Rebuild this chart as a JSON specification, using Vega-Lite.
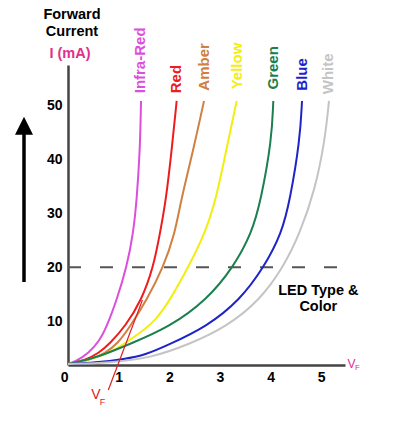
{
  "$schema": "https://vega.github.io/schema/vega-lite/v6.json",
  "width": 277,
  "height": 300,
  "autosize": {"type": "none"},
  "padding": {"left": 68, "top": 65, "right": 67, "bottom": 60},
  "background": "white",
  "config": {"font": "Liberation Sans", "view": {"stroke": null}},
  "datasets": {
    "curves": [
      {"led": "Infra-Red", "v": 0, "I": 2.12}, {"led": "Infra-Red", "v": 0.144, "I": 2.55}, {"led": "Infra-Red", "v": 0.409, "I": 4.1}, {"led": "Infra-Red", "v": 0.632, "I": 6.56}, {"led": "Infra-Red", "v": 0.764, "I": 9.02}, {"led": "Infra-Red", "v": 0.962, "I": 13.96}, {"led": "Infra-Red", "v": 1.159, "I": 20.0}, {"led": "Infra-Red", "v": 1.289, "I": 26.29}, {"led": "Infra-Red", "v": 1.357, "I": 32.44}, {"led": "Infra-Red", "v": 1.422, "I": 41.69}, {"led": "Infra-Red", "v": 1.442, "I": 50.75},
      {"led": "Red", "v": 0, "I": 2.12}, {"led": "Red", "v": 0.342, "I": 2.86}, {"led": "Red", "v": 0.606, "I": 4.1}, {"led": "Red", "v": 0.829, "I": 5.95}, {"led": "Red", "v": 1.126, "I": 9.02}, {"led": "Red", "v": 1.455, "I": 13.96}, {"led": "Red", "v": 1.685, "I": 20.0}, {"led": "Red", "v": 1.817, "I": 26.29}, {"led": "Red", "v": 1.935, "I": 32.44}, {"led": "Red", "v": 2.048, "I": 41.69}, {"led": "Red", "v": 2.146, "I": 50.75},
      {"led": "Amber", "v": 0, "I": 2.12}, {"led": "Amber", "v": 0.434, "I": 2.86}, {"led": "Amber", "v": 0.731, "I": 4.1}, {"led": "Amber", "v": 0.987, "I": 5.95}, {"led": "Amber", "v": 1.224, "I": 9.02}, {"led": "Amber", "v": 1.554, "I": 13.96}, {"led": "Amber", "v": 1.882, "I": 20.0}, {"led": "Amber", "v": 2.113, "I": 26.29}, {"led": "Amber", "v": 2.231, "I": 32.44}, {"led": "Amber", "v": 2.474, "I": 41.69}, {"led": "Amber", "v": 2.686, "I": 50.75},
      {"led": "Yellow", "v": 0, "I": 2.12}, {"led": "Yellow", "v": 0.409, "I": 2.86}, {"led": "Yellow", "v": 0.804, "I": 4.1}, {"led": "Yellow", "v": 1.126, "I": 5.95}, {"led": "Yellow", "v": 1.422, "I": 7.86}, {"led": "Yellow", "v": 1.738, "I": 10.26}, {"led": "Yellow", "v": 2.014, "I": 13.96}, {"led": "Yellow", "v": 2.376, "I": 20.0}, {"led": "Yellow", "v": 2.705, "I": 26.29}, {"led": "Yellow", "v": 2.923, "I": 32.44}, {"led": "Yellow", "v": 3.166, "I": 43.54}, {"led": "Yellow", "v": 3.331, "I": 50.75},
      {"led": "Green", "v": 0, "I": 2.12}, {"led": "Green", "v": 0.211, "I": 2.55}, {"led": "Green", "v": 0.606, "I": 3.47}, {"led": "Green", "v": 1.224, "I": 5.82}, {"led": "Green", "v": 2.014, "I": 9.02}, {"led": "Green", "v": 2.739, "I": 13.96}, {"led": "Green", "v": 3.264, "I": 20.0}, {"led": "Green", "v": 3.628, "I": 26.29}, {"led": "Green", "v": 3.811, "I": 32.44}, {"led": "Green", "v": 4.023, "I": 43.54}, {"led": "Green", "v": 4.054, "I": 50.75},
      {"led": "Blue", "v": 0, "I": 2.12}, {"led": "Blue", "v": 0.533, "I": 2.35}, {"led": "Blue", "v": 1.126, "I": 3.05}, {"led": "Blue", "v": 1.521, "I": 3.79}, {"led": "Blue", "v": 1.975, "I": 5.64}, {"led": "Blue", "v": 2.739, "I": 9.02}, {"led": "Blue", "v": 3.397, "I": 13.96}, {"led": "Blue", "v": 3.87, "I": 20.0}, {"led": "Blue", "v": 4.22, "I": 26.29}, {"led": "Blue", "v": 4.384, "I": 32.44}, {"led": "Blue", "v": 4.581, "I": 43.54}, {"led": "Blue", "v": 4.621, "I": 50.75},
      {"led": "White", "v": 0, "I": 2.12}, {"led": "White", "v": 0.829, "I": 2.38}, {"led": "White", "v": 1.619, "I": 3.18}, {"led": "White", "v": 2.409, "I": 5.82}, {"led": "White", "v": 3.134, "I": 9.02}, {"led": "White", "v": 3.792, "I": 13.96}, {"led": "White", "v": 4.252, "I": 20.0}, {"led": "White", "v": 4.581, "I": 26.29}, {"led": "White", "v": 4.877, "I": 34.29}, {"led": "White", "v": 5.075, "I": 43.54}, {"led": "White", "v": 5.154, "I": 50.75}
    ],
    "ledLabels": [
      {"led": "Infra-Red", "v": 1.422, "I": 52.17},
      {"led": "Red", "v": 2.133, "I": 52.17},
      {"led": "Amber", "v": 2.686, "I": 52.65},
      {"led": "Yellow", "v": 3.337, "I": 52.9},
      {"led": "Green", "v": 4.05, "I": 52.87},
      {"led": "Blue", "v": 4.62, "I": 52.65},
      {"led": "White", "v": 5.134, "I": 52.0}
    ],
    "dashed": [{"v": 0, "v2": 5.35, "I": 20}],
    "tangent": [{"v": 0.796, "I": -2.68}, {"v": 1.47, "I": 13.96}],
    "arrow": [{"v": -0.869, "I": 17.29, "I2": 44.65}],
    "arrowHead": [{"v": -0.869, "I": 46.16}],
    "notes": [
      {"text": "Forward", "v": 0.079, "I": 66.65},
      {"text": "Current", "v": 0.079, "I": 63.5},
      {"text": "LED Type &", "v": 4.943, "I": 15.6},
      {"text": "Color", "v": 4.943, "I": 12.57}
    ],
    "unit": [{"text": "I (mA)", "v": 0.04, "I": 59.44}],
    "vfRedV": [{"text": "V", "v": 0.553, "I": -3.61}],
    "vfRedF": [{"text": "F", "v": 0.681, "I": -4.99}],
    "vfPinkV": [{"text": "V", "v": 5.598, "I": 2.13}],
    "vfPinkF": [{"text": "F", "v": 5.717, "I": 1.39}]
  },
  "encoding": {
    "x": {
      "field": "v", "type": "quantitative",
      "scale": {"domain": [0, 5.47], "nice": false, "zero": false},
      "axis": {
        "values": [0, 1, 2, 3, 4, 5], "title": null, "grid": false, "ticks": false,
        "labelFontSize": 14, "labelFontWeight": "bold", "labelColor": "#000", "labelPadding": 5,
        "labelFlush": false, "labelOverlap": false,
        "labelAlign": {"condition": {"test": "datum.value === 0", "value": "right"}, "value": "center"},
        "domainColor": "#444", "domainWidth": 2.5
      }
    },
    "y": {
      "field": "I", "type": "quantitative",
      "scale": {"domain": [1.94, 57.4], "nice": false, "zero": false},
      "axis": {
        "values": [10, 20, 30, 40, 50], "title": null, "grid": false, "ticks": false,
        "labelFontSize": 14, "labelFontWeight": "bold", "labelColor": "#000", "labelPadding": 6,
        "labelFlush": false, "domainColor": "#444", "domainWidth": 2.5
      }
    }
  },
  "layer": [
    {
      "data": {"name": "dashed"},
      "mark": {"type": "rule", "color": "#555", "strokeWidth": 2, "strokeDash": [13, 19]},
      "encoding": {"x2": {"field": "v2"}}
    },
    {
      "data": {"name": "curves"},
      "mark": {"type": "line", "interpolate": "basis", "strokeWidth": 2},
      "encoding": {
        "color": {
          "field": "led", "type": "nominal", "legend": null,
          "scale": {
            "domain": ["Infra-Red", "Red", "Amber", "Yellow", "Green", "Blue", "White"],
            "range": ["#dc4fdc", "#ee1c1c", "#d08040", "#f2ee10", "#1b7f4f", "#1f24c8", "#c4c4c4"]
          }
        }
      }
    },
    {
      "data": {"name": "tangent"},
      "mark": {"type": "line", "color": "#e02020", "strokeWidth": 1.2, "clip": false}
    },
    {
      "data": {"name": "ledLabels"},
      "mark": {"type": "text", "angle": 270, "align": "left", "baseline": "middle", "fontSize": 15, "fontWeight": "bold"},
      "encoding": {
        "text": {"field": "led"},
        "color": {"field": "led", "type": "nominal", "legend": null}
      }
    },
    {
      "data": {"name": "arrow"},
      "mark": {"type": "rule", "color": "#000", "strokeWidth": 3.5, "clip": false},
      "encoding": {"y2": {"field": "I2"}}
    },
    {
      "data": {"name": "arrowHead"},
      "mark": {"type": "point", "shape": "M0,-1L1,1L-1,1Z", "size": 324, "filled": true, "color": "#000", "opacity": 1, "clip": false}
    },
    {
      "data": {"name": "notes"},
      "mark": {"type": "text", "fontSize": 14.5, "fontWeight": "bold", "color": "#000", "align": "center", "baseline": "middle", "clip": false},
      "encoding": {"text": {"field": "text"}}
    },
    {
      "data": {"name": "unit"},
      "mark": {"type": "text", "fontSize": 14.5, "fontWeight": "bold", "color": "#e0308c", "align": "center", "baseline": "middle", "clip": false},
      "encoding": {"text": {"field": "text"}}
    },
    {
      "data": {"name": "vfRedV"},
      "mark": {"type": "text", "fontSize": 14, "color": "#e02020", "align": "center", "baseline": "middle", "clip": false},
      "encoding": {"text": {"field": "text"}}
    },
    {
      "data": {"name": "vfRedF"},
      "mark": {"type": "text", "fontSize": 9, "color": "#e02020", "align": "center", "baseline": "middle", "clip": false},
      "encoding": {"text": {"field": "text"}}
    },
    {
      "data": {"name": "vfPinkV"},
      "mark": {"type": "text", "fontSize": 12, "color": "#e0308c", "align": "center", "baseline": "middle", "clip": false},
      "encoding": {"text": {"field": "text"}}
    },
    {
      "data": {"name": "vfPinkF"},
      "mark": {"type": "text", "fontSize": 8, "color": "#e0308c", "align": "center", "baseline": "middle", "clip": false},
      "encoding": {"text": {"field": "text"}}
    }
  ]
}
